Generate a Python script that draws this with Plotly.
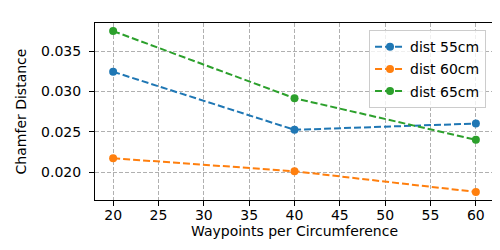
import plotly.graph_objects as go

waypoints = [20, 40, 60]
dist_55 = [0.03244, 0.02525, 0.02603]
dist_60 = [0.02173, 0.02012, 0.01756]
dist_65 = [0.03748, 0.02917, 0.02401]
series_names = ["dist 55cm", "dist 60cm", "dist 65cm"]
colors = ["#1f77b4", "#ff7f0e", "#2ca02c"]

fig = go.Figure()
for i, (name, vals, c) in enumerate(zip(series_names, [dist_55, dist_60, dist_65], colors)):
    fig.add_trace(go.Scatter(
        x=waypoints, y=vals, name=name, mode="lines+markers",
        line=dict(color=c, width=2, dash="7px,3px"),
        marker=dict(color=c, size=8),
        legendgroup=f"g{i}",
    ))

axis_common = dict(
    showline=True, linecolor="black", linewidth=1, mirror=True,
    ticks="outside", ticklen=5, tickcolor="black", tickwidth=1,
    showgrid=True, gridcolor="#b0b0b0", griddash="4px,2px", gridwidth=1,
    zeroline=False, tickfont=dict(size=14, color="black"),
)

fig.update_layout(
    width=500, height=250,
    margin=dict(l=84, r=14, t=15, b=58),
    paper_bgcolor="white", plot_bgcolor="white",
    font=dict(family="DejaVu Sans", size=14, color="black"),
    xaxis=dict(range=[18, 62], tickvals=[20, 25, 30, 35, 40, 45, 50, 55, 60],
               ticklabelstandoff=-3,
               title=dict(text="Waypoints per Circumference", font=dict(size=14), standoff=4),
               **axis_common),
    yaxis=dict(range=[0.01656, 0.03848], tickvals=[0.020, 0.025, 0.030, 0.035],
               tickformat=".3f", ticklabelstandoff=5,
               title=dict(text="Chamfer Distance", font=dict(size=14), standoff=11),
               **axis_common),
    legend=dict(x=0.98, y=0.96, xanchor="right", yanchor="top",
                bgcolor="rgba(255,255,255,0.8)", bordercolor="#cccccc", borderwidth=1,
                font=dict(size=14), tracegroupgap=1),
    showlegend=True,
)

fig.write_html("out.html")
